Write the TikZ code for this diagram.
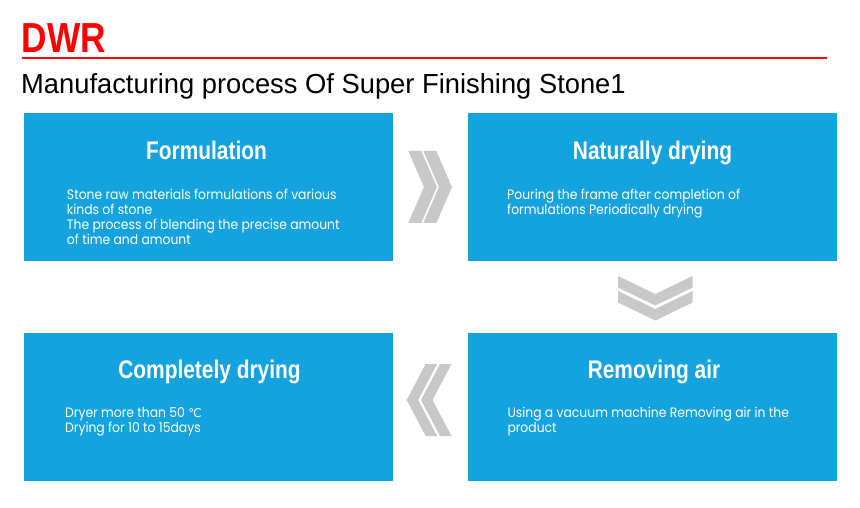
\documentclass[tikz,border=0pt]{standalone}
\usepackage{fontspec}
\setmainfont{Poppins}
\newfontfamily\headfont[FakeStretch=0.82]{Liberation Sans}
\newfontfamily\dwrfont[FakeStretch=0.84]{Liberation Sans}
\newfontfamily\subfont[FakeStretch=0.99]{Liberation Sans}
\newfontfamily\bodyfont[FakeStretch=0.91]{Poppins}
\newfontfamily\symfont{DejaVu Sans}
\definecolor{boxblue}{RGB}{20,163,222}
\definecolor{chevgrey}{RGB}{200,200,200}
\definecolor{dwrred}{RGB}{255,0,0}
\begin{document}
\begin{tikzpicture}[x=1bp,y=-1bp,
  stepbox/.style={fill=boxblue, draw=none, minimum width=369bp, minimum height=148bp, inner sep=0pt, outer sep=0pt, anchor=north west},
  boxtitle/.style={text=white, font=\headfont\bfseries\fontsize{25.5bp}{28bp}\selectfont, inner sep=0pt, anchor=base},
  boxbody/.style={text=white, font=\bodyfont\fontsize{13.6bp}{15bp}\selectfont, inner sep=0pt, anchor=base west},
  chev/.style={fill=chevgrey, draw=none}]
\useasboundingbox (0,0) rectangle (860,508);
\fill[white] (0,0) rectangle (860,508);

% header
\node[text=dwrred, font=\dwrfont\bfseries\fontsize{42bp}{44bp}\selectfont, inner sep=0pt, anchor=base west] (dwr) at (21.8,52.7) {DWR};
\coordinate (rl) at (22,57.7);
\coordinate (rr) at (827,57.7);
\draw[dwrred, line width=2bp] (rl) -- (rr);
\node[text=black, font=\subfont\fontsize{27.6bp}{30bp}\selectfont, inner sep=0pt, anchor=base west] (sub) at (21,93.3) {Manufacturing process Of Super Finishing Stone1};

% boxes
\node[stepbox] (b1) at (24,113) {};
\node[stepbox] (b2) at (468,113) {};
\node[stepbox] (b3) at (24,333) {};
\node[stepbox] (b4) at (468,333) {};

% titles
\node[boxtitle] (t1) at (206.5,159.3) {Formulation};
\node[boxtitle] (t2) at (652.5,159.3) {Naturally drying};
\node[boxtitle] (t3) at (209.5,378.3) {Completely drying};
\node[boxtitle] (t4) at (654,378.3) {Removing air};

% body texts
\node[boxbody] (b1a) at (66.8,199.3) {Stone raw materials formulations of various};
\node[boxbody] (b1b) at (66.8,214.5) {kinds of stone};
\node[boxbody] (b1c) at (66.8,229.8) {The process of blending the precise amount};
\node[boxbody] (b1d) at (66.8,245) {of time and amount};

\node[boxbody] (b2a) at (507,199.3) {Pouring the frame after completion of};
\node[boxbody] (b2b) at (507,214.5) {formulations Periodically drying};

\node[boxbody] (b3a) at (65,417.3) {Dryer more than 50 {\symfont\fontsize{12bp}{15bp}\selectfont ℃}};
\node[boxbody] (b3b) at (65,432.6) {Drying for 10 to 15days};

\node[boxbody] (b4a) at (507.3,417.3) {Using a vacuum machine Removing air in the};
\node[boxbody] (b4b) at (507.3,432.6) {product};

% chevrons right (between b1 and b2)
\foreach \xo in {408.3,423.3}{
  \fill[chev] (\xo,151) -- (\xo+13,151) -- (\xo+28.6,187) -- (\xo+13,223) -- (\xo,223) -- (\xo+15.6,187) -- cycle;
}
% chevrons down (between b2 and b4)
\foreach \yo in {276,291}{
  \fill[chev] (618,\yo) -- (655.3,\yo+18) -- (692.6,\yo) -- (692.6,\yo+11.5) -- (655.3,\yo+29.5) -- (618,\yo+11.5) -- cycle;
}
% chevrons left (between b4 and b3)
\foreach \xt in {406.7,421}{
  \fill[chev] (\xt,400) -- (\xt+19,364) -- (\xt+30.5,364) -- (\xt+11.5,400) -- (\xt+30.5,436) -- (\xt+19,436) -- cycle;
}
\end{tikzpicture}
\end{document}
